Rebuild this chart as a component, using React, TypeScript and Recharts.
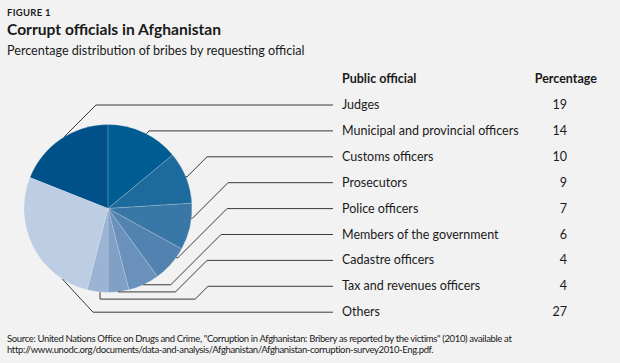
import { Pie, PieChart, Cell } from "recharts";

const officials = [
  "Judges",
  "Municipal and provincial officers",
  "Customs officers",
  "Prosecutors",
  "Police officers",
  "Members of the government",
  "Cadastre officers",
  "Tax and revenues officers",
  "Others",
];

const percentages = [19, 14, 10, 9, 7, 6, 4, 4, 27];

const sliceColors = [
  "#00508a",
  "#005d93",
  "#1d6a9c",
  "#3877a6",
  "#5182b0",
  "#6a90bc",
  "#80a0c6",
  "#9cb4d4",
  "#bccde4",
];

// leader line shape per row: where on the slice it starts, where the 45° run ends
const leaders = [
  { anchor: 0.54, knee: 96, drop: 0 },
  { anchor: 0.54, knee: 149, drop: 0 },
  { anchor: 0.48, knee: 207, drop: 0 },
  { anchor: 0.32, knee: 228, drop: 0 },
  { anchor: 0.28, knee: 227, drop: 0 },
  { anchor: 0.52, knee: 221, drop: 0 },
  { anchor: 0.53, knee: 207, drop: 0 },
  { anchor: 0.38, knee: 208, drop: 7 },
  { anchor: 0.19, knee: 93, drop: 0 },
];

const data = officials.map((name, i) => ({ name, value: percentages[i] }));

const total = percentages.reduce((a, b) => a + b, 0);
const START = 90 + (percentages[0] / total) * 360;

const ROW_TOP = 105;
const ROW_GAP = 25.9;
const LINE_END = 333;
const NAME_X = 342;
const VALUE_X = 567;
const RADIAN = Math.PI / 180;

function LeaderLabel(props: any) {
  const { cx, cy, outerRadius, startAngle, endAngle, index } = props;
  const cfg = leaders[index];
  const ang = startAngle + (endAngle - startAngle) * cfg.anchor;
  const px = cx + outerRadius * Math.cos(-ang * RADIAN);
  const py = cy + outerRadius * Math.sin(-ang * RADIAN);
  const rowY = ROW_TOP + index * ROW_GAP;

  const qy = py + cfg.drop;
  const pts: number[][] = [[px, py]];
  if (cfg.drop) pts.push([px, qy]);
  const diagX = cfg.knee - Math.abs(rowY - qy);
  if (diagX > px) pts.push([diagX, qy]);
  pts.push([cfg.knee, rowY]);
  pts.push([LINE_END, rowY]);

  return (
    <g>
      <polyline
        points={pts.map((p) => p.join(",")).join(" ")}
        fill="none"
        stroke="#3a3a3a"
        strokeWidth={1}
      />
      <text x={NAME_X} y={rowY + 4} fontSize={12.5} fill="#1a1a1a" fontFamily="Lato">
        {officials[index]}
      </text>
      <text
        x={VALUE_X}
        y={rowY + 4}
        fontSize={12.5}
        fill="#1a1a1a"
        fontFamily="Lato"
        textAnchor="end"
      >
        {percentages[index]}
      </text>
    </g>
  );
}

export default function App() {
  return (
    <div
      style={{
        position: "absolute",
        left: 0,
        top: 0,
        width: 620,
        height: 363,
        background: "#f2f2f2",
        fontFamily: "Lato",
      }}
    >
      <svg width={620} height={363} style={{ position: "absolute", left: 0, top: 0 }}>
        <text x={7} y={16} fontSize={9.5} fontWeight={700} letterSpacing={0.3} fill="#1a1a1a">
          FIGURE 1
        </text>
        <text x={7} y={35} fontSize={15.6} fontWeight={700} fill="#1a1a1a">
          Corrupt officials in Afghanistan
        </text>
        <text x={7} y={54.5} fontSize={12.6} fill="#1a1a1a">
          Percentage distribution of bribes by requesting official
        </text>
        <text x={NAME_X} y={83} fontSize={12.5} fontWeight={700} fill="#1a1a1a">
          Public official
        </text>
        <text x={597} y={83} fontSize={12.5} fontWeight={700} fill="#1a1a1a" textAnchor="end">
          Percentage
        </text>
        <text x={7} y={341.5} fontSize={9.5} letterSpacing={-0.36} fill="#1a1a1a">
          Source: United Nations Office on Drugs and Crime, "Corruption in Afghanistan: Bribery as
          reported by the victims" (2010) available at
        </text>
        <text x={7} y={353} fontSize={9.5} letterSpacing={-0.36} fill="#1a1a1a">
          http://www.unodc.org/documents/data-and-analysis/Afghanistan/Afghanistan-corruption-survey2010-Eng.pdf.
        </text>
      </svg>
      <div style={{ position: "absolute", left: 0, top: 0 }}>
        <PieChart width={620} height={363} margin={{ top: 0, right: 0, bottom: 0, left: 0 }}>
          <Pie
            data={data}
            dataKey="value"
            nameKey="name"
            cx={108}
            cy={208.5}
            outerRadius={84}
            startAngle={START}
            endAngle={START - 360}
            stroke="#f2f2f2"
            strokeOpacity={0.35}
            strokeWidth={0.6}
            label={LeaderLabel}
            labelLine={false}
            isAnimationActive={false}
          >
            {data.map((d, i) => (
              <Cell key={d.name} fill={sliceColors[i]} />
            ))}
          </Pie>
        </PieChart>
      </div>
    </div>
  );
}
